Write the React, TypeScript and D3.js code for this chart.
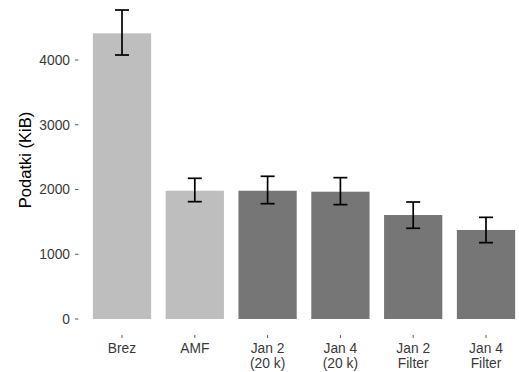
import React from "react";
import * as d3 from "d3";

const categories = ["Brez", "AMF", "Jan 2\n(20 k)", "Jan 4\n(20 k)", "Jan 2\nFilter", "Jan 4\nFilter"];
const values = [4412, 1981, 1981, 1966, 1606, 1375];
const errLow = [4077, 1812, 1781, 1766, 1401, 1179];
const errHigh = [4772, 2173, 2204, 2183, 1807, 1570];
const groups = ["light", "light", "dark", "dark", "dark", "dark"];
const yTicks = [0, 1000, 2000, 3000, 4000];

const W = 519;
const H = 372;
const FONT = "'Liberation Sans', Arial, sans-serif";

export default function App() {
  const x = d3.scaleBand<string>().domain(categories).range([85.6, 522.4]).paddingInner(0.2).paddingOuter(0.1);
  const y = d3.scaleLinear().domain([0, 4000]).range([319, 60]);
  const color = (g: string) => (g === "light" ? "#bebebe" : "#767676");
  const capW = 14;

  return (
    <svg width={W} height={H} style={{ position: "absolute", left: 0, top: 0 }} fontFamily={FONT}>
      <rect x={0} y={0} width={W} height={H} fill="#ffffff" />
      {categories.map((c, i) => {
        const bx = x(c)!;
        const bw = x.bandwidth();
        const cx = bx + bw / 2;
        return (
          <g key={c}>
            <rect x={bx} y={y(values[i])} width={bw} height={y(0) - y(values[i])} fill={color(groups[i])} />
            <line x1={cx} x2={cx} y1={y(errLow[i])} y2={y(errHigh[i])} stroke="#000" strokeWidth={1.7} />
            <line x1={cx - capW / 2} x2={cx + capW / 2} y1={y(errLow[i])} y2={y(errLow[i])} stroke="#000" strokeWidth={1.7} />
            <line x1={cx - capW / 2} x2={cx + capW / 2} y1={y(errHigh[i])} y2={y(errHigh[i])} stroke="#000" strokeWidth={1.7} />
            <line x1={cx} x2={cx} y1={335} y2={338} stroke="#333" strokeWidth={0.8} />
            {c.split("\n").map((line, j) => (
              <text key={j} x={cx} y={353.3 + j * 15} textAnchor="middle" fontSize={13.8} fill="#3a3a3a">
                {line}
              </text>
            ))}
          </g>
        );
      })}
      {yTicks.map((t) => (
        <g key={t}>
          <line x1={75} x2={78.5} y1={y(t)} y2={y(t)} stroke="#333" strokeWidth={0.8} />
          <text x={70} y={y(t)} dy="0.36em" textAnchor="end" fontSize={13.8} fill="#3a3a3a">
            {t}
          </text>
        </g>
      ))}
      <text
        transform={`translate(31, 160) rotate(-90)`}
        textAnchor="middle"
        fontSize={16.5}
        fill="#000"
      >
        Podatki (KiB)
      </text>
    </svg>
  );
}
